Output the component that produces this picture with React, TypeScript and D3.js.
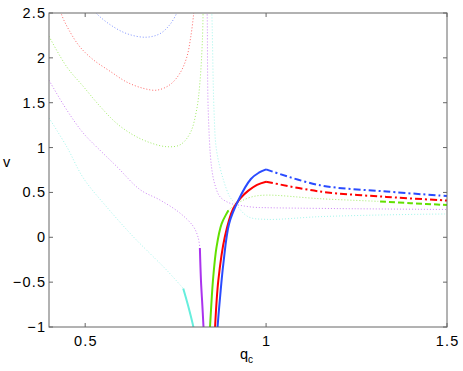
import * as d3 from "d3";

// x ticks / y ticks
const qTicks = [0.5, 1, 1.5];
const vTicks = [-1, -0.5, 0, 0.5, 1, 1.5, 2, 2.5];

// [q_c, v] pairs
const blueDot = [[0.52, 2.56], [0.53, 2.5], [0.569, 2.37], [0.615, 2.27], [0.668, 2.23], [0.707, 2.27], [0.734, 2.37], [0.753, 2.5], [0.757, 2.56]];
const blueSolid = [[0.8655, -1.05], [0.866, -1.0], [0.873, -0.66], [0.882, -0.29], [0.898, 0.155], [0.923, 0.41], [0.958, 0.65], [0.98, 0.72], [1.0, 0.757]];
const blueDashDot = [[1.0, 0.757], [1.149, 0.58], [1.333, 0.51], [1.5, 0.46]];

const redDot = [[0.432, 2.55], [0.435, 2.48], [0.458, 2.29], [0.486, 2.12], [0.522, 1.98], [0.569, 1.85], [0.615, 1.73], [0.661, 1.66], [0.698, 1.64], [0.734, 1.7], [0.762, 1.83], [0.781, 2.01], [0.792, 2.24], [0.799, 2.46], [0.801, 2.55]];
const redSolid = [[0.8585, -1.05], [0.859, -1.0], [0.868, -0.48], [0.886, 0.006], [0.909, 0.32], [0.93, 0.44], [0.951, 0.52], [0.975, 0.585], [1.0, 0.62]];
const redDashDot = [[1.0, 0.62], [1.149, 0.51], [1.333, 0.45], [1.5, 0.41]];

const greenDotL = [[0.4, 2.24], [0.449, 1.9], [0.495, 1.68], [0.541, 1.46], [0.587, 1.27], [0.633, 1.14], [0.679, 1.055], [0.725, 1.01], [0.762, 1.03], [0.79, 1.16], [0.808, 1.42], [0.817, 1.72], [0.824, 2.2], [0.826, 2.55]];
const greenSolid = [[0.844, -1.05], [0.845, -1.0], [0.85, -0.66], [0.854, -0.44], [0.863, -0.11], [0.877, 0.15], [0.896, 0.3]];
const greenDotR = [[0.896, 0.3], [0.91, 0.35], [0.93, 0.4], [0.96, 0.45], [1.0, 0.47], [1.149, 0.43], [1.315, 0.4]];
const greenDash = [[1.315, 0.4], [1.4, 0.38], [1.5, 0.36]];

const purpleDotL = [[0.4, 1.75], [0.449, 1.42], [0.495, 1.16], [0.541, 0.97], [0.587, 0.79], [0.652, 0.53], [0.707, 0.415], [0.762, 0.27], [0.799, 0.12], [0.812, 0.0], [0.817, -0.12]];
const purpleSolid = [[0.817, -0.12], [0.82, -0.48], [0.824, -0.77], [0.827, -1.0], [0.8275, -1.05]];
const purpleDotR = [[0.836, 2.55], [0.837, 2.5], [0.84, 1.42], [0.849, 0.79], [0.859, 0.58], [0.873, 0.45], [0.9, 0.38], [0.93, 0.355], [0.965, 0.335], [1.0, 0.33], [1.2, 0.32], [1.5, 0.31]];

const cyanDotL = [[0.4, 1.33], [0.449, 1.01], [0.495, 0.66], [0.559, 0.34], [0.633, 0.006], [0.679, -0.18], [0.725, -0.365], [0.771, -0.57]];
const cyanSolid = [[0.771, -0.57], [0.784, -0.755], [0.799, -1.0], [0.801, -1.05]];
const cyanDotR = [[0.849, 2.55], [0.85, 2.5], [0.856, 1.42], [0.863, 0.97], [0.882, 0.64], [0.9, 0.45], [0.914, 0.38], [0.95, 0.23], [1.0, 0.2], [1.149, 0.23], [1.333, 0.25], [1.5, 0.26]];

const BLUE = "#2a4bff";
const RED = "#ff0000";
const GREEN = "#62e000";
const PURPLE = "#aa33ee";
const CYAN = "#66eedd";

const W = 463;
const H = 371;
const left = 49, right = 447, top = 13, bottom = 327;

export default function App() {
  const x = d3.scaleLinear().domain([0.4, 1.5]).range([left, right]);
  const y = d3.scaleLinear().domain([-1, 2.5]).range([bottom, top]);
  const line = d3
    .line<number[]>()
    .x((d) => x(d[0]))
    .y((d) => y(d[1]))
    .curve(d3.curveCatmullRom.alpha(0.5));
  const fmt = (v: number) => d3.format("")(v);

  const dotted = { strokeWidth: 1, strokeDasharray: "1 2", opacity: 0.6 };
  const solid = { strokeWidth: 2 };
  const dashDot = { strokeWidth: 2, strokeDasharray: "7 3 2 3" };
  const dashed = { strokeWidth: 2, strokeDasharray: "6 3" };

  // drawing order: dotted first, then solids on top
  const lines: [number[][], string, any][] = [
    [blueDot, BLUE, dotted],
    [redDot, RED, dotted],
    [greenDotL, GREEN, dotted],
    [greenDotR, GREEN, dotted],
    [purpleDotL, PURPLE, dotted],
    [purpleDotR, PURPLE, dotted],
    [cyanDotL, CYAN, dotted],
    [cyanDotR, CYAN, dotted],
    [cyanSolid, CYAN, solid],
    [purpleSolid, PURPLE, solid],
    [greenSolid, GREEN, solid],
    [greenDash, GREEN, dashed],
    [redSolid, RED, solid],
    [redDashDot, RED, dashDot],
    [blueSolid, BLUE, solid],
    [blueDashDot, BLUE, dashDot],
  ];

  const font = "'Liberation Sans', Arial, Helvetica, sans-serif";
  const ls = 1.2;

  return (
    <svg width={W} height={H} style={{ position: "absolute", left: 0, top: 0, background: "#fff" }}>
      <defs>
        <clipPath id="plot">
          <rect x={left} y={top} width={right - left} height={bottom - top} />
        </clipPath>
      </defs>
      <g clipPath="url(#plot)">
        {lines.map(([pts, color, st], i) => (
          <path key={i} d={line(pts as any) || ""} fill="none" stroke={color} {...st} />
        ))}
      </g>
      {/* frame */}
      <rect x={left} y={top} width={right - left} height={bottom - top} fill="none" stroke="#666" strokeWidth={1} />
      {qTicks.map((t) => (
        <g key={"x" + t}>
          <line x1={x(t)} x2={x(t)} y1={bottom} y2={bottom - 4} stroke="#666" />
          <line x1={x(t)} x2={x(t)} y1={top} y2={top + 4} stroke="#666" />
          <text x={x(t) + ls / 2} y={346} textAnchor="middle" fontSize={14.5} letterSpacing={ls} fontFamily={font} fill="#000">
            {fmt(t)}
          </text>
        </g>
      ))}
      {vTicks.map((t) => (
        <g key={"y" + t}>
          <line x1={left} x2={left + 4} y1={y(t)} y2={y(t)} stroke="#666" />
          <line x1={right} x2={right - 4} y1={y(t)} y2={y(t)} stroke="#666" />
          <text x={45 + ls} y={y(t) + 5} textAnchor="end" fontSize={14.5} letterSpacing={ls} fontFamily={font} fill="#000">
            {fmt(t)}
          </text>
        </g>
      ))}
      <text x={240} y={359} fontSize={14.5} fontFamily={font} fill="#000">
        q<tspan fontSize={10} dy={4}>c</tspan>
      </text>
      <text x={3} y={167} fontSize={14.5} fontFamily={font} fill="#000">
        v
      </text>
    </svg>
  );
}
